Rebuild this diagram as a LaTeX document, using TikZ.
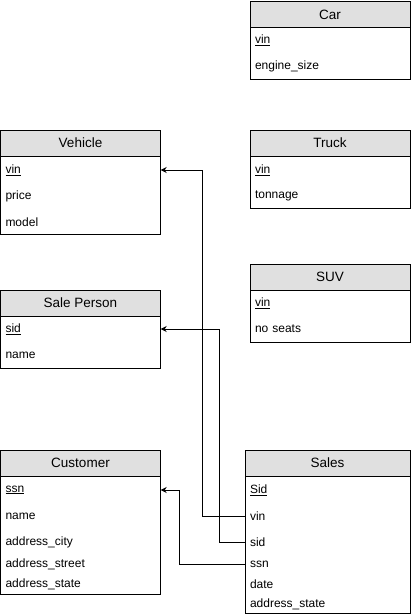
\documentclass[tikz,border=0pt]{standalone}
\usepackage{fontspec}
\setmainfont{Liberation Sans}
\usetikzlibrary{arrows.meta}
\tikzstyle{table_head}=[rectangle,
        minimum height=26pt,
        minimum width=160pt,
        inner sep=0pt,
        draw=black,
        line width=1pt,
        fill=HeadColor,
        font=\fontsize{13.5}{16}\selectfont]
\tikzstyle{table_body}=[rectangle,
        minimum width=160pt,
        inner sep=0pt,
        draw=black,
        line width=1pt,
        fill=white]
\tikzstyle{table_field}=[rectangle,
        minimum height=20pt,
        text width=150pt,
        inner xsep=5pt,
        inner ysep=0pt,
        align=left,
        font=\fontsize{12}{14}\selectfont]
\tikzstyle{fk_link}=[-{Stealth[length=6pt,width=6pt]}, line width=1pt]
\definecolor{HeadColor}{HTML}{E0E0E0}

\begin{document}
\begin{tikzpicture}[x=1pt, y=-1pt]
    \useasboundingbox (0,0) rectangle (411,615);

    % Car
    \node at (330, 54) (car_body) [table_body, minimum height=52pt] {};
    \node at (330, 15) (car) [table_head] {Car};
    \node at (330, 40) (car_vin) [table_field] {\underline{vin}};
    \node at (330, 66) (car_engine) [table_field] {engine\_size};

    % Truck
    \node at (330, 182) (truck_body) [table_body, minimum height=52pt] {};
    \node at (330, 143) (truck) [table_head] {Truck};
    \node at (330, 170) (truck_vin) [table_field] {\underline{vin}};
    \node at (330, 196) (truck_tonnage) [table_field] {tonnage};

    % SUV
    \node at (330, 316) (suv_body) [table_body, minimum height=52pt] {};
    \node at (330, 277) (suv) [table_head] {SUV};
    \node at (330, 303) (suv_vin) [table_field] {\underline{vin}};
    \node at (330, 329) (suv_seats) [table_field] {no seats};

    % Vehicle
    \node at (80.5, 195) (vehicle_body) [table_body, minimum height=78pt] {};
    \node at (80.5, 143) (vehicle) [table_head] {Vehicle};
    \node at (80.5, 170) (vehicle_vin) [table_field] {\underline{vin}};
    \node at (80.5, 196) (vehicle_price) [table_field] {price};
    \node at (80.5, 222) (vehicle_model) [table_field] {model};

    % Sale Person
    \node at (80.5, 342) (person_body) [table_body, minimum height=52pt] {};
    \node at (80.5, 303) (person) [table_head] {Sale Person};
    \node at (80.5, 329) (person_sid) [table_field] {\underline{sid}};
    \node at (80.5, 355) (person_name) [table_field] {name};

    % Customer
    \node at (80.5, 535) (customer_body) [table_body, minimum height=118pt] {};
    \node at (80.5, 463) (customer) [table_head] {Customer};
    \node at (80.5, 490) (customer_ssn) [table_field] {\underline{ssn}};
    \node at (80.5, 516) (customer_name) [table_field] {name};
    \node at (80.5, 542) (customer_city) [table_field] {address\_city};
    \node at (80.5, 564) (customer_street) [table_field] {address\_street};
    \node at (80.5, 584) (customer_state) [table_field] {address\_state};

    % Sales
    \node at (327.5, 544.5) (sales_body) [table_body, minimum width=165pt, minimum height=137pt] {};
    \node at (327.5, 463) (sales) [table_head, minimum width=165pt] {Sales};
    \node at (327.5, 490) (sales_Sid) [table_field, text width=155pt] {\underline{Sid}};
    \node at (327.5, 516) (sales_vin) [table_field, text width=155pt] {vin};
    \node at (327.5, 542) (sales_sid) [table_field, text width=155pt] {sid};
    \node at (327.5, 564) (sales_ssn) [table_field, text width=155pt] {ssn};
    \node at (327.5, 584) (sales_date) [table_field, text width=155pt] {date};
    \node at (327.5, 604) (sales_state) [table_field, text width=155pt] {address\_state};

    \draw[fk_link] (sales_vin.west) -- ++(-42,0) |- (vehicle_vin.east);
    \draw[fk_link] (sales_sid.west) -- ++(-25,0) |- (person_sid.east);
    \draw[fk_link] (sales_ssn.west) -- ++(-65,0) |- (customer_ssn.east);

\end{tikzpicture}
\end{document}
